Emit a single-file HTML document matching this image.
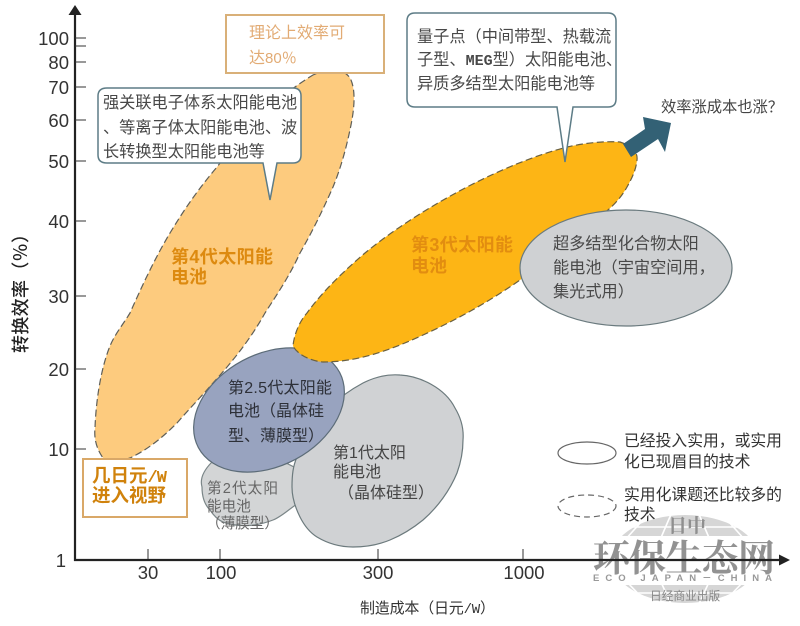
<!DOCTYPE html>
<html><head><meta charset="utf-8"><style>
html,body{margin:0;padding:0;background:#fff;width:800px;height:626px;overflow:hidden}
svg{display:block}
text{font-family:"Liberation Sans","Noto Sans CJK SC",sans-serif}
.n{font-size:18.5px;fill:#333;text-anchor:end}
.c{font-size:18.5px;fill:#333;text-anchor:middle}
.t{font-size:16.2px;fill:#484848}
.m{font-family:"Liberation Mono",monospace}
.w{font-family:"Noto Serif CJK SC",serif}
</style></head><body>
<svg width="800" height="626" viewBox="0 0 800 626" xmlns="http://www.w3.org/2000/svg">
<defs>
<clipPath id="cap"><rect x="600" y="510" width="170" height="26"/><rect x="600" y="585" width="170" height="25"/></clipPath>
</defs>
<rect width="800" height="626" fill="#fff"/>
<!-- 4th gen -->
<path d="M313 75 C328 68 346 68 351 80 C356 92 354 110 351 125 C346 150 340 170 333 187 C322 212 312 232 300 253 C290 275 278 293 265 313 C250 340 232 362 213 383 C200 398 190 408 177 423 C162 438 147 450 130 458 C118 462 108 461 103 458 C96 448 94 438 95 428 C96 400 101 368 110 346 C115 334 122 326 130 313 C142 286 155 258 170 233 C185 208 200 187 217 167 C245 130 275 98 313 75Z" fill="#fdcb7e" stroke="#5f5f58" stroke-width="1.2" stroke-dasharray="7 3.5"/>
<!-- 2nd gen -->
<path d="M212 462 C202 472 200 480 202 487 C202 498 205 505 210 510 C214 516 218 520 223 522 C240 528 258 526 273 520 C281 517 288 510 297 504 L300 470 L260 450Z" fill="#d3d5d6" stroke="#7b8688" stroke-width="1.2"/>
<!-- 1st gen -->
<path d="M292 487 C292 475 293 466 297 457 C305 438 316 420 330 407 C340 397 350 390 363 383 C375 377 388 374 400 375 C420 376 445 388 455 408 C461 418 464 428 463 440 C463 452 461 462 457 473 C450 490 438 507 423 520 C412 529 402 535 390 540 C378 545 365 547 353 547 C340 547 327 543 317 537 C309 532 304 525 300 517 C295 507 292 497 292 487Z" fill="#d0d2d4" stroke="#6c7a7d" stroke-width="1.2"/>
<!-- 2.5 gen -->
<ellipse cx="269" cy="410" rx="80" ry="56" transform="rotate(-28 269 410)" fill="#98a3bf" stroke="#5c6c78" stroke-width="1.2"/>
<!-- 3rd gen -->
<path d="M620 142 C632 146 638 152 637 160 C636 170 632 178 627 187 C622 196 615 204 608 210 C580 235 550 258 520 280 C503 292 485 303 467 313 C445 325 422 336 400 345 C375 355 350 362 323 362 C310 361 297 354 293 346 C294 335 299 322 307 313 C322 292 345 270 365 253 C376 244 388 235 400 227 C422 212 444 199 467 187 C500 170 533 156 567 147 C585 143 603 141 620 142Z" fill="#fdb515" stroke="#6a6040" stroke-width="1.2" stroke-dasharray="7 3.5"/>
<!-- arrow -->
<polygon points="623,144 645,129 643,117 671,123 665,152 658,139 631,157" fill="#336175"/>
<!-- super multi-junction -->
<ellipse cx="626" cy="268" rx="106" ry="58" fill="#cfd1d3" stroke="#6a7a7e" stroke-width="1.2"/>
<!-- axes -->
<g stroke="#222" fill="none">
<path d="M75 14 V561" stroke-width="2.2"/>
<path d="M75 38 H86 M75 46 H86 M75 62 H86 M75 87 H86 M75 120 H86 M75 161 H86 M75 221 H86 M75 296 H86 M75 369 H86 M75 449 H86" stroke="#333" stroke-width="1"/>
<path d="M148 549 V560 M220 549 V560 M378 549 V560 M523 549 V560" stroke="#333" stroke-width="1"/>
</g>
<polygon points="75,5 68.5,15 81.5,15" fill="#222"/>
<text class="n" x="69" y="45">100</text>
<text class="n" x="69" y="69">80</text>
<text class="n" x="69" y="94">70</text>
<text class="n" x="69" y="127">60</text>
<text class="n" x="69" y="168">50</text>
<text class="n" x="69" y="228">40</text>
<text class="n" x="69" y="303">30</text>
<text class="n" x="69" y="376">20</text>
<text class="n" x="69" y="456">10</text>
<text class="n" x="66" y="567">1</text>
<text class="c" x="148" y="579">30</text>
<text class="c" x="221" y="579">100</text>
<text class="c" x="378" y="579">300</text>
<text class="c" x="524" y="579">1000</text>
<text transform="translate(27,353) rotate(-90)" font-size="18" fill="#222" font-weight="500" textLength="128">转换效率（％）</text>
<text x="360" y="613" font-size="15" fill="#333" textLength="135">制造成本（日元<tspan class="m" font-size="14">/W</tspan>）</text>
<!-- top box -->
<rect x="226" y="15" width="158" height="58" fill="#fff" stroke="#d9b078" stroke-width="2"/>
<text x="249" y="38" font-size="16" fill="#e2ab74">理论上效率可</text>
<text x="249" y="63" font-size="16" fill="#e2ab74">达<tspan font-size="15">80％</tspan></text>
<!-- left callout -->
<path d="M107 88 H293 Q301 88 301 96 V155 Q301 163 293 163 H277 L270 200 L263 163 H107 Q98 163 98 155 V96 Q98 88 107 88Z" fill="#fff" stroke="#5d7c86" stroke-width="1.5"/>
<text class="t" x="103" y="108">强关联电子体系太阳能电池</text>
<text class="t" x="103" y="133">、等离子体太阳能电池、波</text>
<text class="t" x="103" y="157">长转换型太阳能电池等</text>
<!-- right callout -->
<path d="M415 13 H608 Q616 13 616 21 V99 Q616 107 608 107 H573 L565 162 L557 107 H415 Q407 107 407 99 V21 Q407 13 415 13Z" fill="#fff" stroke="#5d7c86" stroke-width="1.5"/>
<text class="t" x="417" y="42">量子点（中间带型、热载流</text>
<text class="t" x="417" y="65">子型、<tspan class="m" font-size="15" font-weight="700">MEG</tspan>型）太阳能电池、</text>
<text class="t" x="417" y="89">异质多结型太阳能电池等</text>
<text x="661" y="112" font-size="15.3" fill="#444" textLength="122">效率涨成本也涨？</text>
<!-- labels -->
<text x="171" y="263" font-size="18" font-weight="700" fill="#dd8a10" textLength="102">第4代太阳能</text>
<text x="171" y="283" font-size="18" font-weight="700" fill="#dd8a10">电池</text>
<text x="411" y="251" font-size="18" font-weight="700" fill="#e28d10" textLength="102">第3代太阳能</text>
<text x="411" y="272" font-size="18" font-weight="700" fill="#e28d10">电池</text>
<text class="t" x="553" y="249">超多结型化合物太阳</text>
<text class="t" x="553" y="273">能电池（宇宙空间用，</text>
<text class="t" x="553" y="297">集光式用）</text>
<text x="228" y="393" font-size="16" fill="#2d3038" textLength="104">第2.5代太阳能</text>
<text x="228" y="416" font-size="16" fill="#2d3038">电池（晶体硅</text>
<text x="228" y="441" font-size="16" fill="#2d3038">型、薄膜型）</text>
<text x="333" y="458" font-size="16" fill="#444">第1代太阳</text>
<text x="333" y="477" font-size="16" fill="#444">能电池</text>
<text x="338" y="498" font-size="16" fill="#444">（晶体硅型）</text>
<text x="207" y="493" font-size="14.6" fill="#666" textLength="71">第2代太阳</text>
<text x="207" y="511" font-size="14.6" fill="#666">能电池</text>
<text x="206" y="528" font-size="14.6" fill="#666">（薄膜型）</text>
<!-- bottom left box -->
<rect x="83" y="459" width="104" height="58" fill="#fff" stroke="#d9a868" stroke-width="2"/>
<text x="92" y="482" font-size="18.5" font-weight="700" fill="#d0820c">几日元<tspan class="m" font-size="17" letter-spacing="-1">/W</tspan></text>
<text x="92" y="502" font-size="18.5" font-weight="700" fill="#d0820c">进入视野</text>
<!-- legend -->
<ellipse cx="587" cy="453" rx="29" ry="11" fill="#fff" stroke="#666" stroke-width="1.2"/>
<ellipse cx="587" cy="506" rx="29" ry="11" fill="#fff" stroke="#666" stroke-width="1.2" stroke-dasharray="6 4"/>
<text x="624" y="446" font-size="15.8" fill="#333">已经投入实用，或实用</text>
<text x="624" y="467" font-size="15.8" fill="#333">化已现眉目的技术</text>
<text x="624" y="500" font-size="15.8" fill="#333">实用化课题还比较多的</text>
<text x="624" y="520" font-size="15.8" fill="#333">技术</text>
<!-- watermark -->
<g clip-path="url(#cap)">
<ellipse cx="685" cy="559" rx="74" ry="44" fill="#d6d6d6"/>
<path d="M612 527 H758 M612 593 H758 M650 512 L625 540 M672 512 L660 540 M698 512 L710 540 M720 512 L745 540 M650 606 L625 580 M672 606 L660 580 M698 606 L710 580 M720 606 L745 580" stroke="#fff" stroke-width="1.6" fill="none"/>
</g>
<text class="w" x="668" y="532" font-size="19" font-weight="700" fill="#8f8f8f" textLength="38">日中</text>
<text class="w" x="593" y="571" font-size="37" font-weight="700" fill="#929292" textLength="182">环保生态网</text>
<text x="593" y="581" font-size="9.5" font-weight="700" fill="#999" textLength="179">ECO JAPAN－CHINA</text>
<text x="650" y="600" font-size="11.7" fill="#888">日经商业出版</text>
<!-- x axis on top -->
<path d="M74 560 H780" stroke="#222" stroke-width="2.2"/>
<polygon points="790,560 779,554.5 779,565.5" fill="#222"/>
</svg>
</body></html>
